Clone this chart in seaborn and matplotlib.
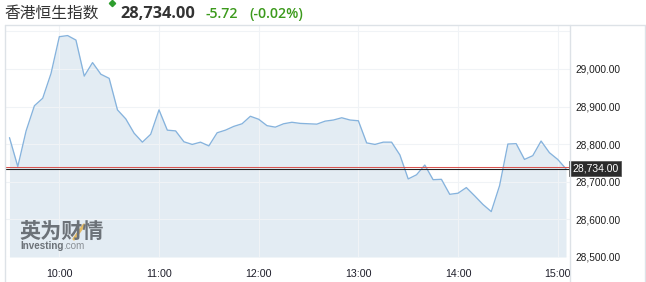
import matplotlib
matplotlib.use("Agg")
import matplotlib.pyplot as plt
import matplotlib.transforms as mtransforms
from matplotlib.lines import Line2D
import seaborn as sns
import pandas as pd

# ---------------- data ----------------
title = "香港恒生指数"
current_value = 28734.00
prev_close = 28739.72
change_text = "-5.72"
pct_text = "(-0.02%)"

start_minute = 9 * 60 + 30     # 09:30
step_minutes = 5
values = [
    28817, 28740, 28835, 28902, 28922, 28988,                          # 09:30-09:55
    29086, 29089, 29077, 28981, 29017, 28986, 28975, 28891, 28867, 28829, 28805, 28826,  # 10:xx
    28891, 28837, 28835, 28806, 28799, 28805, 28795, 28830, 28837, 28847, 28854, 28874,  # 11:xx
    28866, 28849, 28845, 28854, 28858, 28855, 28854, 28853, 28861, 28864, 28870, 28864,  # 12:xx
    28862, 28803, 28799, 28805, 28805, 28771, 28707, 28718, 28744, 28705, 28706, 28666,  # 13:xx
    28669, 28684, 28662, 28639, 28620, 28689, 28800, 28801, 28759, 28769, 28808, 28777,  # 14:xx
    28759, 28734,                                                      # 15:00-15:05
]
minutes = [start_minute + i * step_minutes for i in range(len(values))]

xtick_minutes = [600, 660, 720, 780, 840, 900]
xtick_labels = ["10:00", "11:00", "12:00", "13:00", "14:00", "15:00"]
ytick_values = [28500, 28600, 28700, 28800, 28900, 29000, 29100]
ytick_labels = ["28,500.00", "28,600.00", "28,700.00", "28,800.00", "28,900.00", "29,000.00", ""]

df = pd.DataFrame({"minute": minutes, "value": values})

# ---------------- style ----------------
sns.set_theme(style="white")
plt.rcParams["font.family"] = ["Liberation Sans", "DejaVu Sans"]

W, H = 646, 282
fig = plt.figure(figsize=(W / 100, H / 100), dpi=100)
fig.patch.set_facecolor("white")

def fx(px):
    return px / W

def fy(py):
    return 1 - py / H

ax = fig.add_axes([fx(5), fy(257), fx(570) - fx(5), fy(26) - fy(257)])
ax.set_facecolor("white")

line_color = "#86b3dd"
fill_color = "#e3ecf3"
grid_color = "#f0f3f6"

ymin, ymax = 28499, 29114.5
ax.fill_between(df["minute"], df["value"], ymin, color=fill_color, lw=0, zorder=1)
sns.lineplot(data=df, x="minute", y="value", ax=ax, color=line_color, linewidth=0.95, zorder=4)

ax.set_xlim(567.3, 907.4)
ax.set_ylim(ymin, ymax)

ax.set_xticks(xtick_minutes)
ax.set_xticklabels(xtick_labels)
ax.set_yticks(ytick_values)
ax.set_yticklabels(ytick_labels)
ax.yaxis.tick_right()
ax.tick_params(axis="y", length=0, pad=3.8, labelsize=7.3, labelcolor="#1e1e1e")
ax.tick_params(axis="x", length=0, pad=8.6, labelsize=7.7, labelcolor="#1e1e2a")
ax.set_xlabel("")
ax.set_ylabel("")

ax.grid(True, color=grid_color, linewidth=0.75, zorder=2)
ax.set_axisbelow(False)
for s in ax.spines.values():
    s.set_visible(False)

# reference lines
ax.axhline(prev_close, color="#d9534f", lw=0.75, zorder=5)
ax.axhline(current_value, color="#222222", lw=0.8, zorder=5)

# current value tag
trans = mtransforms.blended_transform_factory(ax.transAxes, ax.transData)
ax.text(1.0 + 2 / 565, current_value, f"{current_value:,.2f}", transform=trans,
        ha="left", va="center", color="white", fontsize=7.5, zorder=10,
        bbox=dict(boxstyle="square,pad=0.25", fc="#2b2b2b", ec="#5a5a5a", lw=0.6),
        clip_on=False)

# frame lines
frame_color = "#dde2e7"
fig.add_artist(Line2D([fx(5), fx(5)], [fy(25), 0], color=frame_color, lw=1.0))
fig.add_artist(Line2D([fx(5), fx(645)], [fy(25), fy(25)], color=frame_color, lw=1.0))
fig.add_artist(Line2D([fx(570), fx(570)], [fy(25), 0], color=frame_color, lw=1.0))
fig.add_artist(Line2D([fx(645), fx(645)], [fy(25), 0], color=frame_color, lw=1.0))

# header
fig.text(fx(4), fy(13.5), title, family=["Noto Sans CJK SC", "DejaVu Sans"],
         fontsize=11.3, color="#333333", ha="left", va="center")
fig.add_artist(Line2D([fx(112)], [fy(3)], marker="D", markersize=3.2,
                      color="#2e9e2e", lw=0))
fig.text(fx(120), fy(14), f"{current_value:,.2f}", family=["Open Sans", "DejaVu Sans"],
         fontsize=11.8, weight="bold", color="#333333", ha="left", va="center")
green = "#3c9a1c"
fig.text(fx(206), fy(14), change_text, family=["Open Sans", "DejaVu Sans"],
         fontsize=10.2, weight="semibold", color=green, ha="left", va="center")
fig.text(fx(249), fy(14), pct_text, family=["Open Sans", "DejaVu Sans"],
         fontsize=10.2, weight="semibold", color=green, ha="left", va="center")

# watermark
fig.text(fx(19), fy(231), "英为财情", family=["Noto Sans CJK SC", "DejaVu Sans"],
         fontsize=15.2, weight="bold", color="#6c7278", ha="left", va="center")
fig.add_artist(Line2D([fx(74), fx(84)], [fy(239), fy(225)], color="#e5b655", lw=2.2, alpha=0.9))
fig.text(fx(20), fy(246), "Investing", fontsize=7.1, weight="bold", color="#6c7278",
         ha="left", va="center")
fig.text(fx(63.5), fy(246), ".com", fontsize=7.1, color="#8a9096", ha="left", va="center")

fig.savefig("out.png", dpi=100, facecolor="white")
